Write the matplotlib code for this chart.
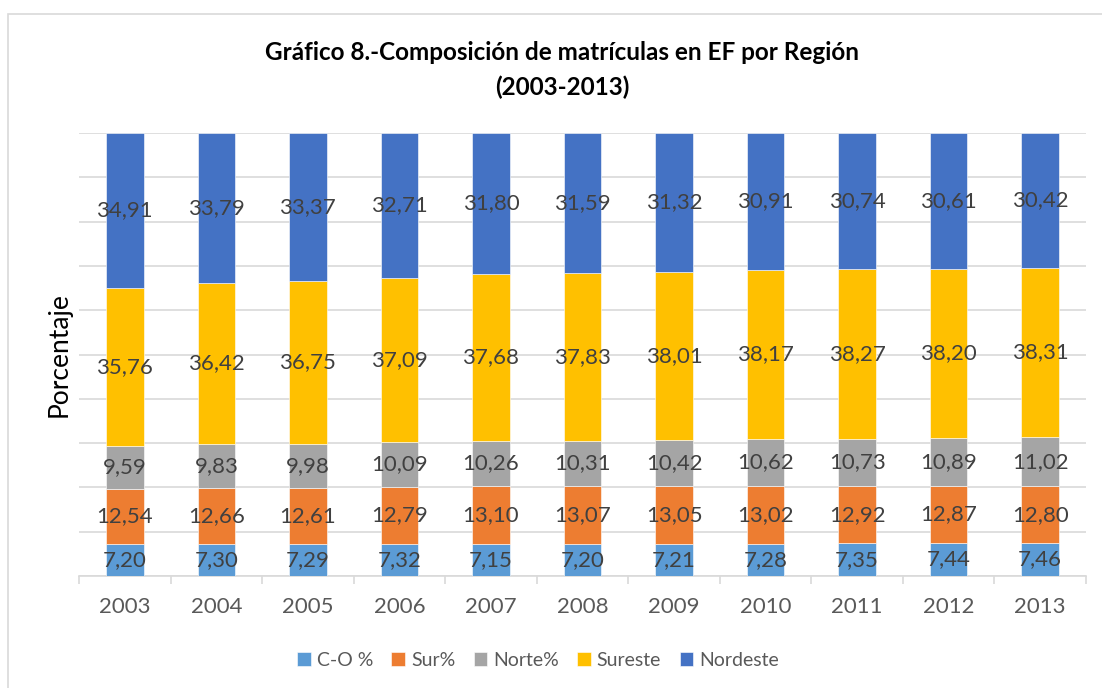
import matplotlib
matplotlib.use("Agg")
import matplotlib.pyplot as plt
from matplotlib.patches import Rectangle
import numpy as np

years = ["2003", "2004", "2005", "2006", "2007", "2008", "2009", "2010", "2011", "2012", "2013"]
series_names = ["C-O %", "Sur%", "Norte%", "Sureste", "Nordeste"]
co = [7.20, 7.30, 7.29, 7.32, 7.15, 7.20, 7.21, 7.28, 7.35, 7.44, 7.46]
sur = [12.54, 12.66, 12.61, 12.79, 13.10, 13.07, 13.05, 13.02, 12.92, 12.87, 12.80]
norte = [9.59, 9.83, 9.98, 10.09, 10.26, 10.31, 10.42, 10.62, 10.73, 10.89, 11.02]
sureste = [35.76, 36.42, 36.75, 37.09, 37.68, 37.83, 38.01, 38.17, 38.27, 38.20, 38.31]
nordeste = [34.91, 33.79, 33.37, 32.71, 31.80, 31.59, 31.32, 30.91, 30.74, 30.61, 30.42]
colors = ["#5B9BD5", "#ED7D31", "#A5A5A5", "#FFC000", "#4472C4"]

plt.rcParams['font.family'] = ['Lato', 'DejaVu Sans']

W, H = 1102, 688
fig = plt.figure(figsize=(W / 100, H / 100), dpi=100)
fig.patch.set_facecolor("white")

# chart border (left/top visible)
fig.add_artist(Rectangle((8 / W, -0.05), 1.2, 1 - 14 / H + 0.05, transform=fig.transFigure,
                         fill=False, edgecolor="#D9D9D9", linewidth=1.2))

ax = fig.add_axes([79 / W, 1 - 576 / H, (1086 - 79) / W, (576 - 133) / H])
x = np.arange(len(years))
data = [co, sur, norte, sureste, nordeste]
bottom = np.zeros(len(years))
for name, vals, c in zip(series_names, data, colors):
    vals = np.array(vals)
    ax.bar(x, vals, bottom=bottom, width=0.41, color=c, edgecolor="white",
           linewidth=0.4, label=name, zorder=3)
    for xi, b, v in zip(x, bottom, vals):
        ax.text(xi, b + v / 2, f"{v:.2f}".replace(".", ","), ha="center", va="center",
                fontsize=16, color="#404040", zorder=4)
    bottom += vals

ax.set_xlim(-0.5, len(years) - 0.5)
ax.set_ylim(0, 100)
ax.set_yticks(np.arange(0, 101, 10))
ax.set_yticklabels([])
ax.tick_params(axis="y", length=0)
ax.grid(axis="y", color="#D9D9D9", linewidth=1.2, zorder=0)
ax.set_axisbelow(True)
ax.set_xticks(x)
ax.set_xticklabels(years, fontsize=16, color="#595959")
ax.tick_params(axis="x", which="major", length=0, pad=15)
ax.set_xticks(np.arange(-0.5, len(years), 1), minor=True)
ax.tick_params(axis="x", which="minor", length=6, color="#D9D9D9", width=1.2)
for s in ["top", "right", "left"]:
    ax.spines[s].set_visible(False)
ax.spines["bottom"].set_color("#D9D9D9")
ax.spines["bottom"].set_linewidth(1.2)

fig.text(59 / W, 1 - 355 / H, "Porcentaje", rotation=90, ha="center", va="center",
         fontsize=19, color="#000000")

fig.text(562 / W, 1 - 53 / H, "Gráfico 8.-Composición de matrículas en EF por Región",
         ha="center", va="center", fontsize=17.5, fontweight="bold", color="#000000")
fig.text(562 / W, 1 - 87 / H, "(2003-2013)", ha="center", va="center",
         fontsize=17.5, fontweight="bold", color="#000000")

handles, labels = ax.get_legend_handles_labels()
leg = fig.legend(handles, labels, loc="center", bbox_to_anchor=(538 / W, 1 - 660 / H),
                 ncol=5, frameon=False, fontsize=14, handlelength=0.7, handleheight=0.7,
                 handletextpad=0.3, columnspacing=0.95, labelcolor="#595959")

fig.savefig("out.png", dpi=100)
